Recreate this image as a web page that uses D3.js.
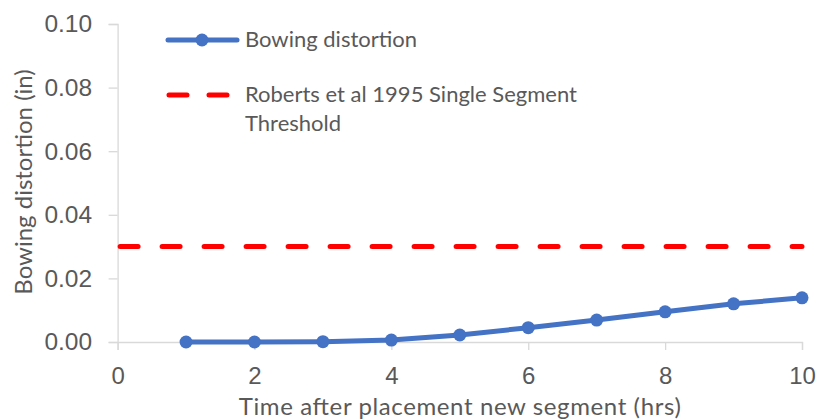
<!DOCTYPE html>
<html>
<head>
<meta charset="utf-8">
<script src="https://cdn.jsdelivr.net/npm/d3@7"></script>
<style>
  body { margin: 0; background: #fff; }
  svg { font-family: Lato, "Open Sans", sans-serif; }
</style>
</head>
<body>
<div id="chart-area"></div>
<script>
// data
const hours = [1, 2, 3, 4, 5, 6, 7, 8, 9, 10]
const bowing = [0.0000, 0.0000, 0.0001, 0.0006, 0.0022, 0.0045, 0.0069, 0.0095, 0.0120, 0.0139]
const threshold = 0.03
const xTicks = [0, 2, 4, 6, 8, 10]
const yTicks = [0, 0.02, 0.04, 0.06, 0.08, 0.10]
const seriesNames = ["Bowing distortion", "Roberts et al 1995 Single Segment", "Threshold"]

function drawChart() {
    const svgWidth = 818
    const svgHeight = 420
    const margin = { left: 117.6, right: 16, top: 24, bottom: 78 }

    const svg = d3.select("#chart-area")
      .append("svg")
      .attr("width", svgWidth)
      .attr("height", svgHeight)

    const xScale = d3.scaleLinear()
        .domain([0, 10])
        .range([margin.left, svgWidth - margin.right])

    const yScale = d3.scaleLinear()
        .domain([0, 0.1])
        .range([svgHeight - margin.bottom, margin.top])

    const axisColor = "#d9d9d9"
    const textColor = "#595959"

    // y axis
    const yAxis = svg.append("g")
        .attr("transform", `translate(${margin.left},0)`)
        .call(d3.axisLeft(yScale).tickValues(yTicks).tickSize(9).tickPadding(16.5)
            .tickFormat(d3.format(".2f")))
    yAxis.select(".domain").attr("stroke", axisColor).attr("stroke-width", 1.3)
    yAxis.selectAll(".tick line").attr("stroke", axisColor).attr("stroke-width", 1.3)
    yAxis.selectAll(".tick text")
        .attr("fill", textColor)
        .style("font-size", "24.5px")

    // x axis
    const xAxis = svg.append("g")
        .attr("transform", `translate(0,${yScale(0)})`)
        .call(d3.axisBottom(xScale).tickValues(xTicks).tickSize(8).tickPadding(17))
    xAxis.select(".domain").attr("stroke", axisColor).attr("stroke-width", 1.3)
    xAxis.selectAll(".tick line").attr("stroke", axisColor).attr("stroke-width", 1.3)
    xAxis.selectAll(".tick text")
        .attr("fill", textColor)
        .style("font-size", "24px")

    // axis titles
    svg.append("text")
        .attr("x", (xScale(0) + xScale(10)) / 2)
        .attr("y", 415)
        .attr("text-anchor", "middle")
        .attr("fill", textColor)
        .style("font-size", "24px")
        .attr("textLength", 442)
        .attr("lengthAdjust", "spacing")
        .text("Time after placement new segment (hrs)")

    svg.append("text")
        .attr("transform", `translate(32,${yScale(0.05) - 1})rotate(-90)`)
        .attr("text-anchor", "middle")
        .attr("fill", textColor)
        .style("font-size", "24px")
        .text("Bowing distortion (in)")

    // threshold line
    svg.append("line")
        .attr("x1", xScale(0) + 2.5)
        .attr("x2", xScale(10))
        .attr("y1", yScale(threshold))
        .attr("y2", yScale(threshold))
        .attr("stroke", "#ff0000")
        .attr("stroke-width", 5)
        .attr("stroke-linecap", "round")
        .attr("stroke-dasharray", "18,24")

    // bowing series
    const lineGenerator = d3.line()
        .x((d, i) => xScale(hours[i]))
        .y(d => yScale(d))

    svg.append("path")
        .attr("d", lineGenerator(bowing))
        .attr("fill", "none")
        .attr("stroke", "#4472c4")
        .attr("stroke-width", 5)
        .attr("stroke-linejoin", "round")

    svg.selectAll(".dot")
        .data(bowing)
        .join("circle")
        .attr("class", "dot")
        .attr("cx", (d, i) => xScale(hours[i]))
        .attr("cy", d => yScale(d))
        .attr("r", 6.5)
        .attr("fill", "#4472c4")

    // legend
    const legend = svg.append("g")
    legend.append("line")
        .attr("x1", 168).attr("x2", 237)
        .attr("y1", 40).attr("y2", 40)
        .attr("stroke", "#4472c4").attr("stroke-width", 5)
        .attr("stroke-linecap", "round")
    legend.append("circle")
        .attr("cx", 202).attr("cy", 40).attr("r", 6.5)
        .attr("fill", "#4472c4")
    legend.append("text")
        .attr("x", 245).attr("y", 47)
        .attr("fill", textColor)
        .style("font-size", "22px")
        .text(seriesNames[0])

    legend.append("line")
        .attr("x1", 169).attr("x2", 231)
        .attr("y1", 95).attr("y2", 95)
        .attr("stroke", "#ff0000").attr("stroke-width", 5)
        .attr("stroke-linecap", "round")
        .attr("stroke-dasharray", "18,22")
    legend.append("text")
        .attr("x", 245).attr("y", 102)
        .attr("fill", textColor)
        .style("font-size", "22px")
        .text(seriesNames[1])
    legend.append("text")
        .attr("x", 245).attr("y", 131)
        .attr("fill", textColor)
        .style("font-size", "22px")
        .text(seriesNames[2])
}

drawChart()
</script>
</body>
</html>
